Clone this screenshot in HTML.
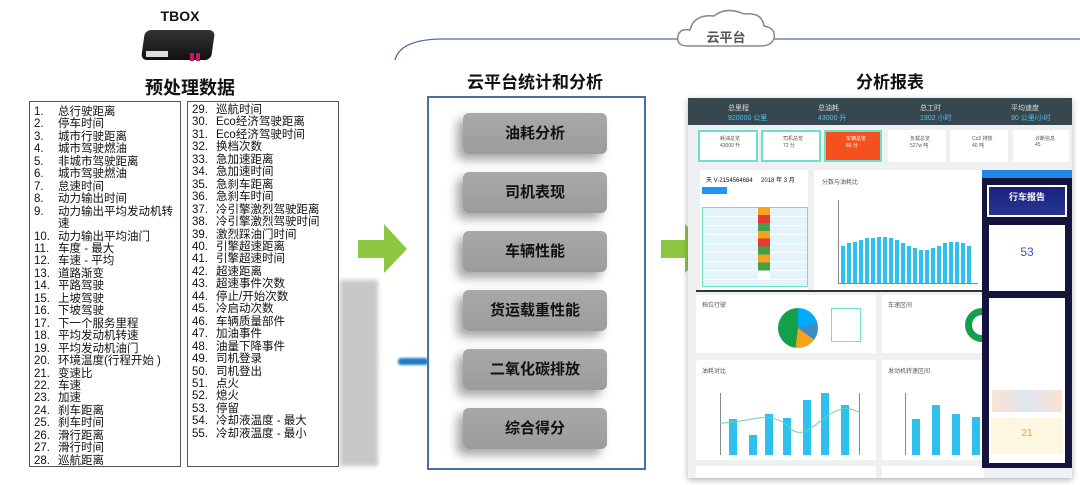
<!DOCTYPE html>
<html><head><meta charset="utf-8"><style>
*{margin:0;padding:0;box-sizing:border-box}
body{width:1080px;height:485px;background:#fff;position:relative;overflow:hidden;font-family:"Liberation Sans","Noto Sans CJK SC",sans-serif;color:#111}
.abs{position:absolute}
.t{font-weight:bold;text-align:center}
.list{position:absolute;top:101px;height:366px;border:1px solid #555;background:#fff;font-size:11.5px;line-height:12.45px;padding:4px 0 0 4px}
.list div{white-space:nowrap}
.list span{display:inline-block;width:24px}
.btn{position:absolute;left:463px;width:144px;height:41px;border-radius:6px;background:linear-gradient(#a8a8a8,#9c9c9c);box-shadow:-6px 6px 10px rgba(0,0,0,.35);font-weight:bold;font-size:15px;text-align:center;line-height:41px;color:#111}
.arrow{position:absolute;width:0;height:0}
.card{position:absolute;top:130px;height:32px;background:#fff;border:2px solid #6ee0c8;font-size:5px;color:#555;padding:3px 0 0 20px}
.panel{position:absolute;background:#fff}
.bar{position:absolute;bottom:0;background:#2ec0ef}
</style></head><body>

<div class="abs t" style="left:150px;top:8px;width:60px;font-size:14px">TBOX</div>
<div class="abs" style="left:143px;top:30px;width:70px;height:30px;background:linear-gradient(#333,#111);border-radius:6px;transform:skewX(-8deg)"></div>
<div class="abs" style="left:146px;top:51px;width:22px;height:6px;background:#ddd"></div>
<div class="abs" style="left:190px;top:53px;width:4px;height:8px;background:#c2186a"></div>
<div class="abs" style="left:196px;top:53px;width:4px;height:8px;background:#c2186a"></div>
<div class="abs t" style="left:120px;top:74px;width:140px;font-size:18px">预处理数据</div>

<div class="abs" style="left:340px;top:280px;width:38px;height:186px;background:#c8c8c8;filter:blur(2px)"></div>
<div class="abs" style="left:398px;top:358px;width:30px;height:7px;background:#1f7ac7;border-radius:3px;filter:blur(1px)"></div>

<div class="list" style="left:29px;width:152px">
<div><span>1.</span>总行驶距离</div><div><span>2.</span>停车时间</div><div><span>3.</span>城市行驶距离</div><div><span>4.</span>城市驾驶燃油</div><div><span>5.</span>非城市驾驶距离</div><div><span>6.</span>城市驾驶燃油</div><div><span>7.</span>怠速时间</div><div><span>8.</span>动力输出时间</div><div><span>9.</span>动力输出平均发动机转</div><div><span></span>速</div><div><span>10.</span>动力输出平均油门</div><div><span>11.</span>车度 - 最大</div><div><span>12.</span>车速 - 平均</div><div><span>13.</span>道路渐变</div><div><span>14.</span>平路驾驶</div><div><span>15.</span>上坡驾驶</div><div><span>16.</span>下坡驾驶</div><div><span>17.</span>下一个服务里程</div><div><span>18.</span>平均发动机转速</div><div><span>19.</span>平均发动机油门</div><div><span>20.</span>环境温度(行程开始 )</div><div><span>21.</span>变速比</div><div><span>22.</span>车速</div><div><span>23.</span>加速</div><div><span>24.</span>刹车距离</div><div><span>25.</span>刹车时间</div><div><span>26.</span>滑行距离</div><div><span>27.</span>滑行时间</div><div><span>28.</span>巡航距离</div>
</div>
<div class="list" style="left:187px;width:152px;padding-top:2px">
<div><span>29.</span>巡航时间</div><div><span>30.</span>Eco经济驾驶距离</div><div><span>31.</span>Eco经济驾驶时间</div><div><span>32.</span>换档次数</div><div><span>33.</span>急加速距离</div><div><span>34.</span>急加速时间</div><div><span>35.</span>急刹车距离</div><div><span>36.</span>急刹车时间</div><div><span>37.</span>冷引擎激烈驾驶距离</div><div><span>38.</span>冷引擎激烈驾驶时间</div><div><span>39.</span>激烈踩油门时间</div><div><span>40.</span>引擎超速距离</div><div><span>41.</span>引擎超速时间</div><div><span>42.</span>超速距离</div><div><span>43.</span>超速事件次数</div><div><span>44.</span>停止/开始次数</div><div><span>45.</span>冷启动次数</div><div><span>46.</span>车辆质量部件</div><div><span>47.</span>加油事件</div><div><span>48.</span>油量下降事件</div><div><span>49.</span>司机登录</div><div><span>50.</span>司机登出</div><div><span>51.</span>点火</div><div><span>52.</span>熄火</div><div><span>53.</span>停留</div><div><span>54.</span>冷却液温度 - 最大</div><div><span>55.</span>冷却液温度 - 最小</div>
</div>

<!-- arrows -->
<svg class="abs" style="left:0;top:0" width="1080" height="485">
<polygon points="358,240 384,240 384,224 407,249 384,273 384,258 358,258" fill="#8dc63f"/>
<polygon points="661,240 685,240 685,224 708,249 685,273 685,258 661,258" fill="#8dc63f"/>
<path d="M395,60 Q400,40 440,39 L1080,39" fill="none" stroke="#4a6fa5" stroke-width="1.3"/>
<path d="M688,46 Q676,46 678,36 Q680,28 690,30 Q694,14 714,16 Q726,6 744,14 Q762,12 764,26 Q776,28 774,38 Q772,46 760,46 Z" fill="#fff" stroke="#888" stroke-width="1.5"/>
<text x="726" y="42" font-size="13" font-weight="bold" fill="#555" text-anchor="middle" font-family="Liberation Sans,Noto Sans CJK SC,sans-serif">云平台</text>
</svg>

<div class="abs t" style="left:440px;top:68px;width:190px;font-size:17px">云平台统计和分析</div>
<div class="abs t" style="left:830px;top:68px;width:120px;font-size:17px">分析报表</div>

<div class="abs" style="left:427px;top:96px;width:219px;height:374px;border:2px solid #4a6fa5;background:#fff"></div>
<div class="btn" style="top:113px">油耗分析</div>
<div class="btn" style="top:172px">司机表现</div>
<div class="btn" style="top:231px">车辆性能</div>
<div class="btn" style="top:290px">货运载重性能</div>
<div class="btn" style="top:349px">二氧化碳排放</div>
<div class="btn" style="top:408px">综合得分</div>

<!-- dashboard -->
<div class="abs" style="left:688px;top:98px;width:384px;height:380px;background:#eef0f2;box-shadow:0 2px 6px rgba(0,0,0,.3)"></div>
<div class="abs" style="left:688px;top:98px;width:384px;height:27px;background:#37474f;color:#ddd;font-size:7px">
<div class="abs" style="left:40px;top:5px">总里程<br><span style="color:#4fc3f7">920000 公里</span></div>
<div class="abs" style="left:130px;top:5px">总油耗<br><span style="color:#4fc3f7">43000 升</span></div>
<div class="abs" style="left:232px;top:5px">总工时<br><span style="color:#4fc3f7">1902 小时</span></div>
<div class="abs" style="left:323px;top:5px">平均速度<br><span style="color:#4fc3f7">90 公里/小时</span></div>
</div>
<div class="card" style="left:698px;width:60px">耗油总览<br>43000 升</div>
<div class="card" style="left:761px;width:60px">司机总览<br>72 分</div>
<div class="card" style="left:824px;width:58px;background:#f4511e;border-color:#6ee0c8;color:#fff">车辆总览<br>80 分</div>
<div class="card" style="left:888px;width:58px;border-color:#fff">负载总览<br>527w 吨</div>
<div class="card" style="left:950px;width:58px;border-color:#fff">Co2 排放<br>40 吨</div>
<div class="card" style="left:1013px;width:56px;border-color:#fff">诊断信息<br>45</div>

<div class="panel" style="left:700px;top:170px;width:108px;height:120px"></div>
<div class="abs" style="left:706px;top:175px;font-size:6px">天 V-2154564684 &nbsp;&nbsp;&nbsp; 2018 年 3 月</div>
<div class="abs" style="left:702px;top:187px;width:25px;height:7px;background:#2196f3"></div>
<div class="abs" style="left:702px;top:207px;width:106px;height:80px;border:1px solid #6ee0c8;background:repeating-linear-gradient(#e3f4fb 0 8px,#fff 8px 9px)"></div>
<div class="abs" style="left:758px;top:207px;width:12px;height:72px;background:linear-gradient(#f7a21b 0 11%,#e53935 11% 22%,#43a047 22% 33%,#f7a21b 33% 44%,#e53935 44% 55%,#43a047 55% 66%,#f7a21b 66% 77%,#43a047 77% 88%,#fff 88%)"></div>

<div class="panel" style="left:814px;top:170px;width:170px;height:120px"></div>
<div class="abs" style="left:822px;top:177px;font-size:6px;color:#555">分数与油耗比</div>
<div class="abs" style="left:838px;top:200px;width:140px;height:84px;border-left:1px solid #888;border-bottom:1px solid #888">
<div class="bar" style="left:2px;width:4px;height:45%"></div><div class="bar" style="left:8px;width:4px;height:48%"></div><div class="bar" style="left:14px;width:4px;height:50%"></div><div class="bar" style="left:20px;width:4px;height:52%"></div><div class="bar" style="left:26px;width:4px;height:54%"></div><div class="bar" style="left:32px;width:4px;height:54%"></div><div class="bar" style="left:38px;width:4px;height:55%"></div><div class="bar" style="left:44px;width:4px;height:55%"></div><div class="bar" style="left:50px;width:4px;height:54%"></div><div class="bar" style="left:56px;width:4px;height:52%"></div><div class="bar" style="left:62px;width:4px;height:48%"></div><div class="bar" style="left:68px;width:4px;height:45%"></div><div class="bar" style="left:74px;width:4px;height:42%"></div><div class="bar" style="left:80px;width:4px;height:40%"></div><div class="bar" style="left:86px;width:4px;height:40%"></div><div class="bar" style="left:92px;width:4px;height:42%"></div><div class="bar" style="left:98px;width:4px;height:45%"></div><div class="bar" style="left:104px;width:4px;height:48%"></div><div class="bar" style="left:110px;width:4px;height:50%"></div><div class="bar" style="left:116px;width:4px;height:50%"></div><div class="bar" style="left:122px;width:4px;height:48%"></div><div class="bar" style="left:128px;width:4px;height:45%"></div>
</div>

<div class="abs" style="left:696px;top:290px;width:290px;height:2px;background:#333"></div>
<div class="panel" style="left:696px;top:295px;width:180px;height:58px"></div>
<div class="abs" style="left:702px;top:300px;font-size:6px;color:#555">档位行驶</div>
<div class="abs" style="left:778px;top:308px;width:40px;height:40px;border-radius:50%;background:conic-gradient(#00aaff 0 20%,#3a8dc5 20% 35%,#f7a21b 35% 52%,#12a04a 52% 100%)"></div>
<div class="abs" style="left:831px;top:308px;width:30px;height:34px;border:1.5px solid #6ee0c8"></div>
<div class="panel" style="left:882px;top:295px;width:102px;height:58px"></div>
<div class="abs" style="left:888px;top:300px;font-size:6px;color:#555">车速区间</div>
<div class="abs" style="left:965px;top:308px;width:22px;height:34px;border:7px solid #12a04a;border-right:none;border-radius:17px 0 0 17px"></div>

<div class="panel" style="left:696px;top:360px;width:180px;height:100px"></div>
<div class="abs" style="left:702px;top:366px;font-size:6px;color:#555">油耗对比</div>
<div class="abs" style="left:720px;top:393px;width:140px;height:62px;border-left:1px solid #888;border-right:1px solid #888">
<div class="bar" style="left:8px;width:8px;height:58%"></div><div class="bar" style="left:28px;width:8px;height:32%"></div><div class="bar" style="left:44px;width:8px;height:66%"></div><div class="bar" style="left:62px;width:8px;height:60%"></div><div class="bar" style="left:82px;width:8px;height:88%"></div><div class="bar" style="left:100px;width:8px;height:100%"></div><div class="bar" style="left:120px;width:8px;height:80%"></div>
</div>
<svg class="abs" style="left:720px;top:393px" width="140" height="62"><path d="M0,30 C30,30 50,15 70,35 C90,55 110,0 140,20" fill="none" stroke="#6bd4a0" stroke-width="1"/></svg>
<div class="panel" style="left:882px;top:360px;width:102px;height:100px"></div>
<div class="abs" style="left:888px;top:366px;font-size:6px;color:#555">发动机转速区间</div>
<div class="abs" style="left:905px;top:393px;width:80px;height:62px;border-left:1px solid #888">
<div class="bar" style="left:6px;width:8px;height:58%"></div><div class="bar" style="left:26px;width:8px;height:80%"></div><div class="bar" style="left:46px;width:8px;height:66%"></div><div class="bar" style="left:66px;width:8px;height:62%"></div>
</div>
<div class="panel" style="left:696px;top:466px;width:180px;height:12px"></div>
<div class="panel" style="left:882px;top:466px;width:102px;height:12px"></div>

<div class="abs" style="left:982px;top:170px;width:90px;height:298px;background:#14143c"></div>
<div class="abs" style="left:982px;top:170px;width:90px;height:8px;background:#1e88e5"></div>
<div class="abs" style="left:987px;top:185px;width:80px;height:32px;background:linear-gradient(#1a237e,#283593);border:2px solid #fff;color:#fff;font-size:9px;font-weight:bold;text-align:center;padding-top:3px">行车报告</div>
<div class="abs" style="left:989px;top:225px;width:76px;height:66px;background:#fff;text-align:center;font-size:12px;color:#3f51b5;padding-top:20px">53</div>
<div class="abs" style="left:989px;top:298px;width:76px;height:165px;background:#fff"></div>
<div class="abs" style="left:992px;top:390px;width:70px;height:22px;background:linear-gradient(90deg,#fbe2d4,#dfe6ee,#fbe2d4)"></div>
<div class="abs" style="left:991px;top:418px;width:72px;height:36px;background:#fdf6e0;text-align:center;font-size:10px;color:#f7a21b;padding-top:10px">21</div>
</body></html>
